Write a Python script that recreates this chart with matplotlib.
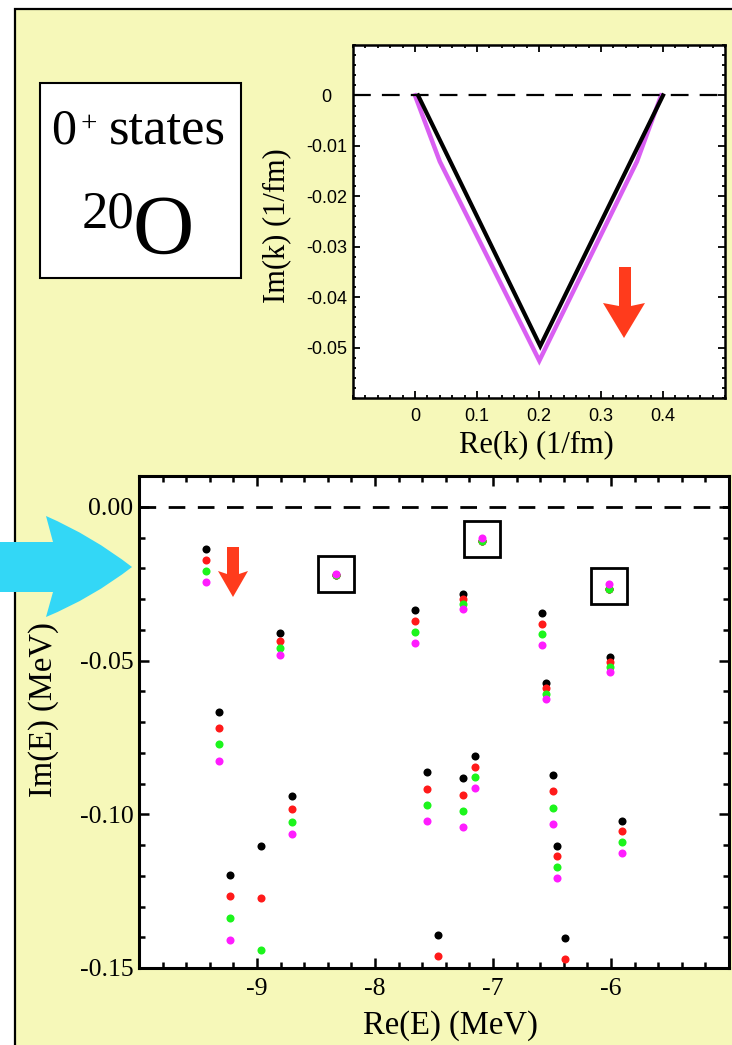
import numpy as np
import matplotlib

matplotlib.use("Agg")
import matplotlib.pyplot as plt
from matplotlib.patches import Rectangle, Polygon, PathPatch
from matplotlib.path import Path
from matplotlib.ticker import MultipleLocator, FixedLocator, FixedFormatter

plt.rcParams["axes.unicode_minus"] = False
SERIF = ["Liberation Serif", "DejaVu Serif"]
SANS = ["Liberation Sans", "DejaVu Sans"]

# inset: k-plane contour
rek_black = [0.005, 0.202, 0.400]
imk_black = [0.0, -0.0497, 0.0]
rek_magenta = [0.0, 0.040, 0.2005, 0.358, 0.397]
imk_magenta = [0.0, -0.0131, -0.0526, -0.0131, 0.0]

# main: 0+ resonances in the complex energy plane, one x per group of four
re_e = [-9.430, -8.333, -8.805, -7.096, -7.658, -7.252, -6.587, -6.020, -6.006, -6.551, -9.325,
        -8.703, -8.966, -9.229, -7.562, -7.254, -7.153, -6.492, -6.455, -5.907, -7.463, -6.392]
im_black = [-0.0139, -0.0222, -0.0412, -0.0110, -0.0336, -0.0285, -0.0344, -0.0266, -0.0488, -0.0573, -0.0668,
            -0.0942, -0.1103, -0.1196, -0.0864, -0.0883, -0.0812, -0.0873, -0.1102, -0.1023, -0.1392, -0.1403]
im_red = [-0.0174, -0.0222, -0.0437, -0.0110, -0.0371, -0.0300, -0.0380, -0.0266, -0.0504, -0.0590, -0.0721,
          -0.0984, -0.1272, -0.1267, -0.0917, -0.0937, -0.0846, -0.0926, -0.1137, -0.1056, -0.1462, -0.1472]
im_green = [-0.0209, -0.0221, -0.0460, -0.0110, -0.0406, -0.0316, -0.0415, -0.0266, -0.0521, -0.0608, -0.0773,
            -0.1025, -0.1441, -0.1338, -0.0970, -0.0989, -0.0880, -0.0980, -0.1172, -0.1090, np.nan, np.nan]
im_magenta = [-0.0244, -0.0218, -0.0483, -0.0100, -0.0442, -0.0333, -0.0450, -0.0252, -0.0539, -0.0626, -0.0827,
              -0.1063, np.nan, -0.1408, -0.1022, -0.1042, -0.0916, -0.1032, -0.1208, -0.1126, np.nan, np.nan]
boxed = [1, 3, 7]

W, H = 732, 1045
YELLOW = "#f6f8b9"
CYAN = "#33d7f6"
ORANGE = "#ff3b1c"

fig = plt.figure(figsize=(W / 100, H / 100), dpi=100)


def fpt(x, y):
    return (x / W, 1 - y / H)


def pix_axes(x0, y0, x1, y1):
    return fig.add_axes([x0 / W, 1 - y1 / H, (x1 - x0) / W, (y1 - y0) / H])


# yellow panel with black frame (cut by the figure edge)
fig.add_artist(Rectangle(fpt(15, 1080), 760 / W, 1071 / H, transform=fig.transFigure,
                         facecolor=YELLOW, edgecolor="black", lw=1.6, zorder=-5))

# ---- inset
ax1 = pix_axes(353, 45, 725, 398)
ax1.plot(rek_magenta, imk_magenta, color="#d95ff2", lw=3.2, solid_joinstyle="miter")
ax1.plot(rek_black, imk_black, color="black", lw=3.0, solid_joinstyle="miter")
ax1.axhline(0, color="black", lw=1.6, dashes=(8, 5))
ax1.set_xlim(-0.1, 0.5)
ax1.set_ylim(-0.06, 0.01)
ax1.xaxis.set_major_locator(FixedLocator([0, 0.1, 0.2, 0.3, 0.4]))
ax1.xaxis.set_major_formatter(FixedFormatter(["0", "0.1", "0.2", "0.3", "0.4"]))
ax1.xaxis.set_minor_locator(MultipleLocator(0.02))
ax1.yaxis.set_major_locator(FixedLocator([0, -0.01, -0.02, -0.03, -0.04, -0.05]))
ax1.yaxis.set_major_formatter(FixedFormatter(["0", "-0.01", "-0.02", "-0.03", "-0.04", "-0.05"]))
ax1.yaxis.set_minor_locator(MultipleLocator(0.002))
ax1.tick_params(which="both", direction="in", top=True, right=True, width=1.3)
ax1.tick_params(which="major", length=5)
ax1.tick_params(which="minor", length=2.5)
ax1.tick_params(axis="x", pad=7)
ax1.tick_params(axis="y", pad=19)
for lab in ax1.get_xticklabels() + ax1.get_yticklabels():
    lab.set_family(SANS)
    lab.set_fontsize(13)
for lab in ax1.get_yticklabels():
    lab.set_ha("center")
for s in ax1.spines.values():
    s.set_linewidth(1.8)
ax1.set_xlabel("Re(k) (1/fm)", family=SERIF, fontsize=22)
ax1.xaxis.set_label_coords((536 - 353) / 372, -(445 - 398) / 353)
ax1.xaxis.label.set_va("center")
ax1.set_ylabel("Im(k) (1/fm)", family=SERIF, fontsize=22)
ax1.yaxis.set_label_coords(-(353 - 277) / 372, (398 - 226) / 353)
ax1.yaxis.label.set_va("center")

# ---- main plot
ax2 = pix_axes(139, 476, 729, 968)
ax2.axhline(0, color="black", lw=2.0, dashes=(6, 4.5))
for vals, col in [(im_black, "black"), (im_red, "#ff1a1a"), (im_green, "#1cf51c"), (im_magenta, "#ff1cff")]:
    ax2.plot(re_e, vals, "o", color=col, ms=5.8, mec="none")
bw, bh = 0.305, 0.0117
for i in boxed:
    grp = [im_black[i], im_red[i], im_green[i], im_magenta[i]]
    yc = (min(grp) + max(grp)) / 2
    ax2.add_patch(Rectangle((re_e[i] - bw / 2, yc - bh / 2), bw, bh, fill=False, ec="black", lw=2.0))
ax2.set_xlim(-10, -5)
ax2.set_ylim(-0.15, 0.01)
ax2.xaxis.set_major_locator(FixedLocator([-9, -8, -7, -6]))
ax2.xaxis.set_major_formatter(FixedFormatter(["-9", "-8", "-7", "-6"]))
ax2.xaxis.set_minor_locator(MultipleLocator(0.2))
ax2.yaxis.set_major_locator(FixedLocator([0, -0.05, -0.10, -0.15]))
ax2.yaxis.set_major_formatter(FixedFormatter(["0.00", "-0.05", "-0.10", "-0.15"]))
ax2.yaxis.set_minor_locator(MultipleLocator(0.01))
ax2.tick_params(which="both", direction="in", top=True, right=True, width=1.8)
ax2.tick_params(which="major", length=7)
ax2.tick_params(which="minor", length=4)
ax2.tick_params(axis="x", pad=7)
ax2.tick_params(axis="y", pad=4)
for lab in ax2.get_xticklabels() + ax2.get_yticklabels():
    lab.set_family(SERIF)
    lab.set_fontsize(18.5)
for s in ax2.spines.values():
    s.set_linewidth(2.2)
ax2.set_xlabel("Re(E) (MeV)", family=SERIF, fontsize=23.5)
ax2.xaxis.set_label_coords((450 - 139) / 590, -(1026 - 968) / 492)
ax2.xaxis.label.set_va("center")
ax2.set_ylabel("Im(E) (MeV)", family=SERIF, fontsize=23.5)
ax2.yaxis.set_label_coords(-(139 - 44) / 590, (968 - 710) / 492)
ax2.yaxis.label.set_va("center")

# ---- label box
fig.add_artist(Rectangle(fpt(40, 278), 201 / W, 195 / H, transform=fig.transFigure,
                         facecolor="white", edgecolor="black", lw=1.5, zorder=2))
fig.text(*fpt(51, 144), "0", family=SERIF, fontsize=36, ha="left", va="baseline", zorder=3)
fig.text(*fpt(80, 131), "+", family=SERIF, fontsize=21, ha="left", va="baseline", zorder=3)
fig.text(*fpt(109, 144), "states", family=SERIF, fontsize=38, ha="left", va="baseline", zorder=3)
fig.text(*fpt(134, 227), "20", family=SERIF, fontsize=38, ha="right", va="baseline", zorder=3)
fig.text(*fpt(132, 254), "O", family=SERIF, fontsize=61, ha="left", va="baseline", zorder=3)


# ---- arrows (figure pixel coordinates)
def down_arrow(xl, xr, ytop, yhead, hl, hr, tip):
    pts = [(xl, ytop), (xr, ytop), (xr, yhead + 3), (hr, yhead), tip, (hl, yhead), (xl, yhead + 3)]
    fig.add_artist(Polygon([fpt(*p) for p in pts], closed=True, transform=fig.transFigure,
                           facecolor=ORANGE, edgecolor="none", zorder=10))


down_arrow(619, 631, 267, 303, 603, 645, (624, 338))
down_arrow(227, 239, 547, 571, 218, 248, (233, 597))

verts = [(-5, 542), (53, 542), (46, 516), (92, 536), (132, 567), (92, 598), (46, 617),
         (53, 592), (-5, 592), (-5, 542)]
codes = [Path.MOVETO, Path.LINETO, Path.LINETO, Path.CURVE3, Path.CURVE3, Path.CURVE3, Path.CURVE3,
         Path.LINETO, Path.LINETO, Path.CLOSEPOLY]
fig.add_artist(PathPatch(Path([fpt(*v) for v in verts], codes), transform=fig.transFigure,
                         facecolor=CYAN, edgecolor="none", zorder=10))

fig.savefig("out.png", dpi=100)
